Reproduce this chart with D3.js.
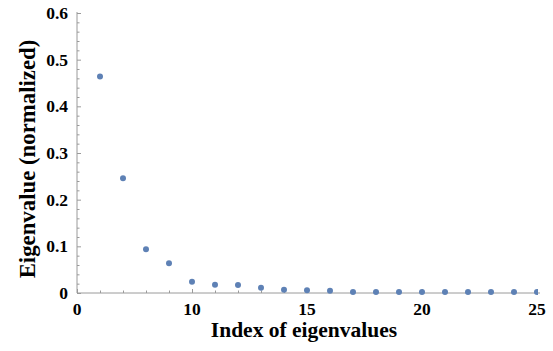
<!DOCTYPE html>
<html>
<head>
<meta charset="utf-8">
<script src="https://cdn.jsdelivr.net/npm/d3@7"></script>
<style>
  body { margin: 0; background: #fff; }
  text { font-family: "Liberation Serif", "Times New Roman", serif; font-weight: bold; fill: #000; }
</style>
</head>
<body>
<script>
// eigenvalue index (the axis starts at 5 but its label reads "0")
var indices = [6, 7, 8, 9, 10, 11, 12, 13, 14, 15, 16, 17, 18, 19, 20, 21, 22, 23, 24, 25];
var eigenvalues = [0.464, 0.246, 0.094, 0.064, 0.024, 0.0175, 0.017, 0.011, 0.0068, 0.006,
                   0.005, 0.002, 0.002, 0.002, 0.002, 0.002, 0.002, 0.002, 0.002, 0.002];
var xTicks = [5, 10, 15, 20, 25];
var xTickLabels = ["0", "10", "15", "20", "25"];
var yTicks = [0, 0.1, 0.2, 0.3, 0.4, 0.5, 0.6];
var yTickLabels = ["0", "0.1", "0.2", "0.3", "0.4", "0.5", "0.6"];

var width = 553, height = 351;
var plotLeft = 77, plotRight = 537, plotTop = 13, plotBottom = 293;

var svg = d3.select("body").append("svg").attr("width", width).attr("height", height);

var x = d3.scaleLinear().domain([5, 25]).range([plotLeft, plotRight]);
var y = d3.scaleLinear().domain([0, 0.6]).range([plotBottom, plotTop]);

var axisColor = "#9a9a9a";

// clip so the last point is cut at the plot edge
svg.append("clipPath").attr("id", "plotclip")
   .append("rect").attr("x", plotLeft).attr("y", 0).attr("width", plotRight - plotLeft + 1).attr("height", plotBottom + 5);

// x axis: ticks point up into the plot
var xAxis = d3.axisTop(x).tickValues(xTicks).tickSize(4).tickFormat("");
var xMinor = d3.axisTop(x).tickValues(d3.range(5, 26, 1).filter(function(d) { return d % 5 !== 0; })).tickSize(2.5).tickFormat("");

var gx = svg.append("g").attr("transform", "translate(0," + plotBottom + ")");
gx.call(xAxis);
gx.append("g").call(xMinor).select(".domain").remove();
gx.selectAll("path, line").attr("stroke", axisColor).attr("stroke-width", 1);
gx.select(".domain").attr("d", "M" + plotLeft + ",0H" + (plotRight + 3));

svg.selectAll(".xlab").data(xTicks).enter().append("text")
   .attr("x", function(d) { return x(d); })
   .attr("y", 315)
   .attr("text-anchor", "middle")
   .style("font-size", "17.5px")
   .text(function(d, i) { return xTickLabels[i]; });

// y axis: ticks point right into the plot
var yAxis = d3.axisRight(y).tickValues(yTicks).tickSize(4).tickFormat("");
var yMinor = d3.axisRight(y).tickValues(d3.range(0, 30).map(function(i) { return i * 0.02; }).filter(function(d, i) { return i % 5 !== 0; })).tickSize(2.5).tickFormat("");

var gy = svg.append("g").attr("transform", "translate(" + plotLeft + ",0)");
gy.call(yAxis);
gy.append("g").call(yMinor).select(".domain").remove();
gy.selectAll("path, line").attr("stroke", axisColor).attr("stroke-width", 1);
gy.select(".domain").attr("d", "M0," + (plotTop - 1) + "V" + plotBottom);

svg.selectAll(".ylab").data(yTicks).enter().append("text")
   .attr("x", 68)
   .attr("y", function(d) { return y(d); })
   .attr("dy", "0.35em")
   .attr("text-anchor", "end")
   .style("font-size", "17.5px")
   .text(function(d, i) { return yTickLabels[i]; });

// points
svg.append("g").attr("clip-path", "url(#plotclip)")
   .selectAll("circle").data(indices).enter().append("circle")
   .attr("cx", function(d) { return x(d); })
   .attr("cy", function(d, i) { return y(eigenvalues[i]); })
   .attr("r", 3)
   .attr("fill", "#5e81b5");

// axis titles
svg.append("text")
   .attr("x", 304).attr("y", 337)
   .attr("text-anchor", "middle")
   .style("font-size", "21.5px")
   .text("Index of eigenvalues");

svg.append("text")
   .attr("transform", "translate(35,159) rotate(-90)")
   .attr("text-anchor", "middle")
   .style("font-size", "22.8px")
   .text("Eigenvalue (normalized)");
</script>
</body>
</html>
